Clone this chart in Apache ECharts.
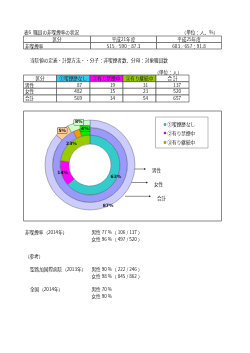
<!DOCTYPE html>
<html><head><meta charset="utf-8">
<script src="https://cdn.jsdelivr.net/npm/echarts@6/dist/echarts.min.js"></script>
<style>html,body{margin:0;padding:0;background:#fff}#c{width:250px;height:353px}</style>
</head><body><div id="c"></div>
<script>
// ---- data ----
const table1Header = ['区分', '平成21年度', '平成25年度'];
const table1Row = ['非喫煙率', '515／590：87.3', '603／657：91.8'];
const categories = ['①喫煙歴なし', '②有り禁煙中', '③有り継続中'];
const rowLabels = ['男性', '女性', '合計'];
const male = [87, 19, 31];
const female = [482, 15, 23];
const total = [569, 34, 54];
const rowTotals = [137, 520, 657];
const notes2014 = ['男性 77 %（ 106 / 137 ）', '女性 96 %（ 497 / 520 ）'];
const notesStLuke = ['男性 90 %（ 222 / 246 ）', '女性 98 %（ 845 / 862 ）'];
const notesJapan = ['男性 70 %', '女性 90 %'];

// ---- styles ----
const FONT = '"Noto Sans CJK JP", sans-serif';
const FS = 4.6;
const innerColors = ['#33cccc', '#ff00ff', '#99cc00'];
const midColors = ['#9999ff', '#ff9900', '#00ee00'];
const outerColors = ['#ccccff', '#ffcc99', '#ccffcc'];
const headerColors = ['#ffffff', '#33ccee', '#ff00ff', '#99cc00', '#ffffff'];

const g = [];
function txt(x, y, s, align, opts) {
  g.push(Object.assign({type: 'text', x: x, y: y, silent: true,
    style: {text: s, fontSize: FS, fontFamily: FONT, fill: '#222', align: align || 'left', verticalAlign: 'middle'}}, opts || {}));
}
function rect(x, y, w, h, fill, stroke, lw) {
  g.push({type: 'rect', silent: true, shape: {x: x, y: y, width: w, height: h},
    style: {fill: fill || 'none', stroke: stroke || '#444', lineWidth: lw || 0.6}});
}

// title
txt(24, 32, '表6  職員の非喫煙率の状況');
txt(218, 32, '（単位：人、%）', 'right');
// table 1
const t1x = [23.5, 90.5, 156.5, 221.5];
const t1y = [36, 42.5, 49];
for (let c = 0; c < 3; c++) {
  for (let r = 0; r < 2; r++) rect(t1x[c], t1y[r], t1x[c + 1] - t1x[c], t1y[r + 1] - t1y[r], '#fff');
  txt((t1x[c] + t1x[c + 1]) / 2, (t1y[0] + t1y[1]) / 2, table1Header[c], 'center');
  if (c === 0) txt(t1x[0] + 1.5, (t1y[1] + t1y[2]) / 2, table1Row[0]);
  else txt((t1x[c] + t1x[c + 1]) / 2, (t1y[1] + t1y[2]) / 2, table1Row[c], 'center');
}
txt(30, 60, '当院値の定義・計算方法・・分子：非喫煙者数、分母：対象職員数');
txt(182, 72, '（単位：人）', 'right');
// table 2
const t2x = [23.5, 56.5, 90, 123, 156, 189];
const t2y = [75, 81.7, 88.3, 95, 102];
const head2 = ['区分'].concat(categories).concat(['合 計']);
const rows2 = [male, female, total];
for (let c = 0; c < 5; c++) {
  rect(t2x[c], t2y[0], t2x[c + 1] - t2x[c], t2y[1] - t2y[0], headerColors[c]);
  txt((t2x[c] + t2x[c + 1]) / 2, (t2y[0] + t2y[1]) / 2, head2[c], 'center');
  for (let r = 0; r < 3; r++) {
    rect(t2x[c], t2y[r + 1], t2x[c + 1] - t2x[c], t2y[r + 2] - t2y[r + 1], '#fff');
    const cy = (t2y[r + 1] + t2y[r + 2]) / 2;
    if (c === 0) txt(t2x[0] + 1.5, cy, rowLabels[r]);
    else if (c < 4) txt(t2x[c + 1] - 8, cy, String(rows2[r][c - 1]), 'right');
    else txt(t2x[c + 1] - 8, cy, String(rowTotals[r]), 'right');
  }
}
// chart frame and legend frame
rect(23.5, 111, 198, 110, 'none', '#888', 1);
rect(155.5, 117, 52.5, 31, 'none', '#aaa', 0.8);
// legend entries
const legendY = [124.5, 133, 142.5];
categories.forEach((c, i) => {
  g.push({type: 'rect', silent: true, shape: {x: 164, y: legendY[i] - 1, width: 2, height: 2}, style: {fill: innerColors[i], stroke: '#333', lineWidth: 0.3}});
  txt(167.5, legendY[i], c);
});
// arrows
const arrows = [[118, 146, 169, rowLabels[0], 152, 170.5], [121.5, 148, 182.5, rowLabels[1], 154, 184.3], [125, 151, 196.3, rowLabels[2], 157, 198.3]];
arrows.forEach(a => {
  g.push({type: 'line', silent: true, shape: {x1: a[0], y1: a[2], x2: a[1] - 1.5, y2: a[2]}, style: {stroke: '#222', lineWidth: 0.5}});
  g.push({type: 'polygon', silent: true, shape: {points: [[a[1], a[2]], [a[1] - 2, a[2] - 1], [a[1] - 2, a[2] + 1]]}, style: {fill: '#222'}});
  txt(a[4], a[5], a[3]);
});
// bottom notes
txt(25, 232, '非喫煙率（2014年）');
txt(91.5, 232, notes2014[0]);
txt(91.5, 238.8, notes2014[1]);
txt(25, 256, '（参考）');
txt(30, 269.3, '聖路加国際病院（2013年）');
txt(91.5, 269.3, notesStLuke[0]);
txt(91.5, 276, notesStLuke[1]);
txt(30, 289, '全国（2014年）');
txt(91.5, 289, notesJapan[0]);
txt(91.5, 296, notesJapan[1]);

function ringData(vals, colors) {
  const sum = vals.reduce((a, b) => a + b, 0);
  return vals.map((v, i) => {
    const small = v / sum < 0.1;
    return {name: categories[i], value: v, itemStyle: {color: colors[i]},
      label: small ? {backgroundColor: colors[i], borderColor: '#333', borderWidth: 0.4, padding: [0.5, 0.8, 0, 0.8]} : {}};
  });
}
function ring(name, vals, colors, radius) {
  return {type: 'pie', name: name, center: [90, 165], radius: radius, startAngle: 90, clockwise: true,
    percentPrecision: 0, silent: true, animation: false, avoidLabelOverlap: false,
    data: ringData(vals, colors),
    itemStyle: {borderColor: '#555', borderWidth: 0.4},
    label: {show: true, position: 'inside', formatter: '{d}%', fontSize: 4.5, fontWeight: 'bold', color: '#111', fontFamily: 'DejaVu Sans'},
    labelLine: {show: false}, emphasis: {disabled: true}};
}

const chart = echarts.init(document.getElementById('c'), null, {renderer: 'canvas'});
chart.setOption({
  backgroundColor: '#fff',
  animation: false,
  series: [
    ring('男性', male, innerColors, [21, 30]),
    ring('女性', female, midColors, [30, 37.5]),
    ring('合計', total, outerColors, [37.5, 45])
  ],
  graphic: g
});
</script></body></html>
